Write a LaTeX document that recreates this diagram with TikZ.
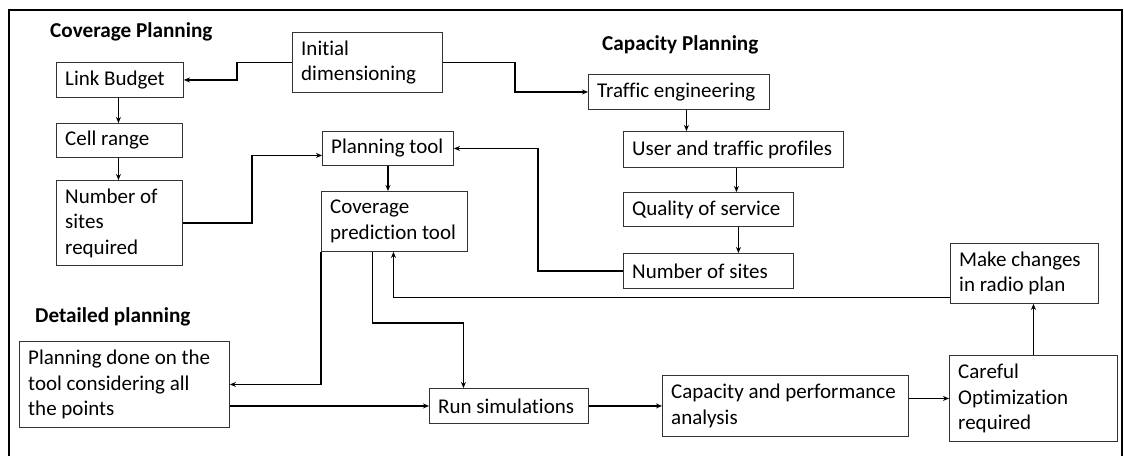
\documentclass[tikz,border=0pt]{standalone}
\usepackage{fontspec}
\setmainfont{Carlito}[Ligatures=NoCommon]
\usetikzlibrary{arrows.meta}
\newcommand\boxnode[6]{%
  \node[bxs, minimum width=#4pt, minimum height=#5pt] (#1) at (#2,#3) {};
  \node[txt] (#1-t) at ([xshift=9pt]#1.west) {#6};}
\begin{document}
\begin{tikzpicture}[x=1pt,y=-1pt,
  bxs/.style={draw=black!80, line width=0.9pt, inner sep=0pt, anchor=north west},
  txt/.style={anchor=west, inner sep=0pt, align=left, font=\fontsize{21}{25.5}\selectfont},
  ttl/.style={anchor=west, inner sep=0pt, font=\fontsize{21.2}{24}\selectfont\bfseries},
  arr/.style={line width=1.6pt, -{Stealth[length=6pt,width=5pt]}}]
\useasboundingbox (0,0) rectangle (1124,455);
\begin{scope}
\clip (0,0) rectangle (1124,455);
\draw[line width=2.2pt] (9,10) rectangle (1122,470);
\end{scope}

% titles
\node[ttl] (tcov) at (50,32) {Coverage Planning};
\node[ttl] (tcap) at (602,45) {Capacity Planning};
\node[ttl] (tdet) at (35,317) {Detailed planning};

% boxes
\boxnode{initial}{292}{32}{150}{60}{Initial\\dimensioning}
\boxnode{link}{56}{62}{127}{35}{Link Budget}
\boxnode{cell}{56}{123}{126}{34}{Cell range}
\boxnode{numreq}{56}{180}{126}{85}{Number of\\sites\\required}
\boxnode{ptool}{322}{131}{131}{34}{Planning tool}
\boxnode{cov}{321}{191}{146}{60}{Coverage\\prediction tool}
\boxnode{traffic}{588}{74}{181}{35}{Traffic engineering}
\boxnode{user}{623}{131}{220}{36}{User and traffic profiles}
\boxnode{qos}{623}{192}{170}{34}{Quality of service}
\boxnode{nsites}{623}{253}{170}{35}{Number of sites}
\boxnode{make}{950}{243}{148}{60}{Make changes\\in radio plan}
\boxnode{careful}{949}{355}{168}{86}{Careful\\Optimization\\required}
\boxnode{capacity}{662}{375}{246}{61}{Capacity and performance\\analysis}
\boxnode{run}{429}{388}{159}{35}{Run simulations}
\boxnode{pdone}{19}{341}{210}{86}{Planning done on the\\tool considering all\\the points}

% connectors
\draw[arr] (initial.west) -- ++(-55,0) |- (link.east);
\draw[arr] ([xshift=-1.5pt]link.south) -- ([xshift=-1.5pt]link.south |- cell.north);
\draw[arr] ([xshift=-1pt]cell.south) -- ([xshift=-1pt]cell.south |- numreq.north);
\draw[arr] (numreq.east) -- ++(69,0) |- ([yshift=-7pt]ptool.west);
\draw[arr] (ptool.south) -- (ptool.south |- cov.north);
\draw[arr] (initial.east) -- ++(72,0) |- (traffic.west);
\draw[arr] ([xshift=7.5pt]traffic.south) -- ([xshift=7.5pt]traffic.south |- user.north);
\draw[arr] ([xshift=3pt]user.south) -- ([xshift=3pt]user.south |- qos.north);
\draw[arr] ([xshift=30pt]qos.south) -- ([xshift=30pt]qos.south |- nsites.north);
\draw[arr] (nsites.west) -- ++(-85,0) |- (ptool.east);
\draw[arr] ([yshift=-24pt]make.west) -| ([xshift=-1pt]cov.south);
\draw[arr] (cov.south west) |- (pdone.east);
\draw[arr] ([xshift=-22pt]cov.south) -- ++(0,71) -| ([xshift=-45.5pt]run.north);
\draw[arr] (pdone.east |- run.west) -- (run.west);
\draw[arr] (run.east) -- (capacity.west);
\draw[arr] (careful.west -| capacity.east) -- (careful.west);
\draw[arr] (careful.north) -- (careful.north |- make.south);
\end{tikzpicture}
\end{document}
